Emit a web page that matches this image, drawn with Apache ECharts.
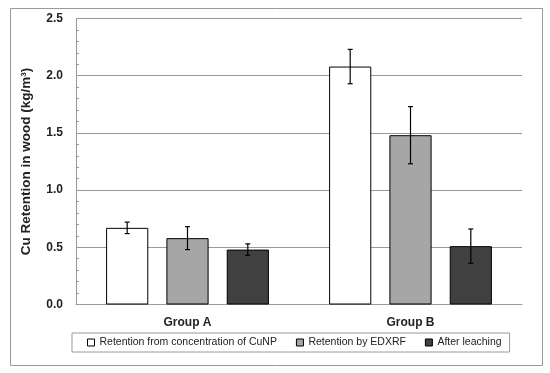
<!DOCTYPE html>
<html><head><meta charset="utf-8">
<script src="https://cdn.jsdelivr.net/npm/echarts@6/dist/echarts.min.js"></script>
<style>html,body{margin:0;padding:0;background:#fff}#c{width:550px;height:373px}</style>
</head><body><div id="c"></div>
<script>
const categories = ['Group A', 'Group B'];
const seriesNames = ['Retention from concentration of CuNP', 'Retention by EDXRF', 'After leaching'];
const retentionCuNP = [0.67, 2.08];
const retentionEDXRF = [0.58, 1.48];
const afterLeaching = [0.48, 0.51];
const errCuNP = [0.05, 0.15];
const errEDXRF = [0.10, 0.25];
const errLeaching = [0.05, 0.15];
const yTicks = [0, 0.5, 1.0, 1.5, 2.0, 2.5];

const values = [retentionCuNP, retentionEDXRF, afterLeaching];
const errors = [errCuNP, errEDXRF, errLeaching];
const colors = ['#ffffff', '#a6a6a6', '#404040'];
const font = 'Liberation Sans, Arial, sans-serif';

const chart = echarts.init(document.getElementById('c'));

const barSeries = values.map((v, i) => ({
  name: seriesNames[i], type: 'bar', data: v,
  barGap: '43%', barCategoryGap: '27%',
  itemStyle: { color: colors[i], borderColor: '#000', borderWidth: 1 },
  emphasis: { disabled: true }
}));

const errSeries = values.map((v, si) => ({
  type: 'custom', name: 'err' + si,
  data: v.map((val, ci) => [ci, val - errors[si][ci], val + errors[si][ci]]),
  encode: { x: 0, y: [1, 2] }, z: 10,
  renderItem: function (params, api) {
    const ci = api.value(0);
    const lo = api.coord([ci, api.value(1)]);
    const hi = api.coord([ci, api.value(2)]);
    const bw = api.size([1, 0])[0];
    const barW = bw * 0.73 / (3 + 2 * 0.43);
    const gap = barW * 0.43;
    const total = 3 * barW + 2 * gap;
    const x = lo[0] - total / 2 + si * (barW + gap) + barW / 2;
    const cap = 2.5;
    const st = { stroke: '#000', lineWidth: 1.2 };
    return { type: 'group', children: [
      { type: 'line', shape: { x1: x, y1: lo[1], x2: x, y2: hi[1] }, style: st },
      { type: 'line', shape: { x1: x - cap, y1: lo[1], x2: x + cap, y2: lo[1] }, style: st },
      { type: 'line', shape: { x1: x - cap, y1: hi[1], x2: x + cap, y2: hi[1] }, style: st }
    ]};
  }
}));

chart.setOption({
  animation: false,
  textStyle: { fontFamily: font },
  graphic: [{ type: 'rect', shape: { x: 10.5, y: 8.5, width: 532, height: 357 },
    style: { fill: 'none', stroke: '#9a9a9a', lineWidth: 1 }, silent: true }],
  grid: { left: 76, right: 28, top: 18.5, bottom: 68.5 },
  legend: {
    data: seriesNames.map(n => ({ name: n, icon: 'rect' })),
    top: 333, left: 72,
    itemWidth: 7, itemHeight: 7, itemGap: 19,
    borderColor: '#9a9a9a', borderWidth: 1, padding: [4, 8, 4, 15],
    textStyle: { fontSize: 10.5, color: '#222', fontFamily: font },
    itemStyle: { borderColor: '#000', borderWidth: 1 }
  },
  xAxis: {
    type: 'category', data: categories,
    axisLine: { lineStyle: { color: '#9a9a9a' } },
    axisTick: { show: false },
    axisLabel: { fontWeight: 'bold', fontSize: 12, color: '#222', margin: 12 }
  },
  yAxis: {
    type: 'value', min: 0, max: 2.5, interval: 0.5,
    name: 'Cu Retention in wood (kg/m³)', nameLocation: 'middle', nameGap: 43,
    nameTextStyle: { fontWeight: 'bold', fontSize: 13.5, color: '#222' },
    axisLine: { show: true, lineStyle: { color: '#9a9a9a' } },
    axisTick: { show: true, inside: true, length: 3, lineStyle: { color: '#9a9a9a' } },
    minorTick: { show: true, splitNumber: 5, length: 3, lineStyle: { color: '#9a9a9a' } },
    splitLine: { lineStyle: { color: '#9a9a9a' } },
    axisLabel: { fontWeight: 'bold', fontSize: 12, color: '#222', margin: 13,
      formatter: v => v.toFixed(1) }
  },
  series: [...barSeries, ...errSeries]
});
</script></body></html>
